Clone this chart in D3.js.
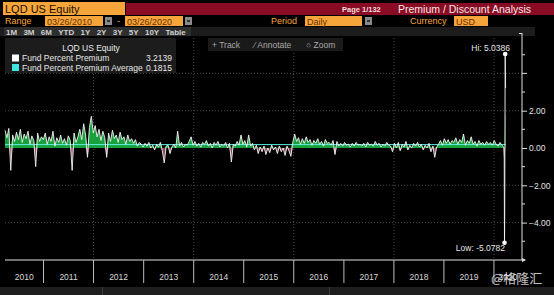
<!DOCTYPE html>
<html>
<head>
<meta charset="utf-8">
<script src="https://cdn.jsdelivr.net/npm/d3@7"></script>
<style>
  body { margin: 0; background: #000; }
  svg { display: block; font-family: "Liberation Sans", Arial, sans-serif; }
</style>
</head>
<body>
<div class="chart"></div>
<script>
// biweekly Fund Percent Premium, starting 03/26/2010
var startDate = "2010-03-26"
var premium = [
  // 2010
  0.95, 0.55, 1.05, -1.2, 0.7, 0.35, 0.85, 0.45, 1.0, 0.3, 0.75, 0.5, 0.9, 0.2, 0.65, 0.4, -1.0, 0.8, 0.35, 0.6,
  // 2011
  0.45, 0.8, 0.2, 0.6, 0.35, 0.9, 0.1, 0.55, 0.3, 0.7, 0.25, 0.5, 0.15, 0.65, 0.4, -1.2, 0.8, 0.3, 0.6, 1.0, 0.45, 1.3, 0.7, -0.5, 1.1, 1.7,
  // 2012
  0.8, 1.2, 0.6, 1.0, 0.4, 0.9, 0.55, -0.5, 0.8, 0.35, 0.95, 0.5, 0.7, 0.3, 0.85, 0.45, 0.6, 0.2, 0.7, 0.35, 0.5, 0.25, 0.45, 0.1, 0.3, 0.2,
  // 2013
  0.05, 0.25, 0.1, 0.3, 0.0, 0.15, -0.1, 0.2, 0.05, 0.3, -0.15, -0.8, 0.1, 0.15, -0.3, 0.05, 0.2, 0.0, 0.9, 0.1, 0.3, 0.05, 0.2, 0.15, 0.35, 0.6,
  // 2014
  0.15, 0.35, 0.1, 0.25, 0.05, 0.3, 0.2, 0.4, 0.1, 0.25, 0.0, 0.3, 0.15, 0.35, 0.05, 0.2, 0.1, 0.3, 0.0, 0.25, -0.75, 0.2, 0.1, 0.35, 0.15, 0.7,
  // 2015
  0.2, 0.4, 0.05, 0.7, 0.1, 0.25, -0.1, 0.15, -0.3, 0.05, -0.2, 0.1, -0.35, 0.0, -0.25, 0.15, -0.1, 0.05, -0.3, 0.1, -0.2, 0.0, -0.4, 0.1, -0.15, -0.45,
  // 2016
  0.3, 0.75, 0.35, 0.55, 0.2, 0.5, 0.25, 0.6, 0.3, 0.45, 0.15, 0.4, 0.25, 0.5, 0.2, 0.35, 0.1, 0.45, 0.25, 0.3, 0.15, 0.4, -0.35, 0.35, 0.1, 0.25,
  // 2017
  0.1, 0.3, 0.15, 0.2, 0.05, 0.25, 0.1, 0.3, 0.15, 0.2, 0.1, 0.25, 0.05, 0.3, 0.15, 0.2, 0.1, 0.35, 0.15, 0.25, 0.05, 0.2, 0.1, 0.3, 0.15, 0.1,
  // 2018
  -0.2, 0.25, 0.0, 0.3, -0.15, 0.2, 0.05, 0.35, -0.1, 0.15, 0.0, 0.25, 0.1, 0.3, 0.05, 0.2, -0.1, 0.15, 0.0, 0.25, -0.2, 0.1, -0.5, 0.05, 0.2, 0.4,
  // 2019
  0.15, 0.5, 0.25, 0.45, 0.2, 0.4, 0.3, 0.55, 0.2, 0.45, 0.3, 0.75, 0.15, 0.4, 0.25, 0.6, 0.2, 0.35, 0.1, 0.4, 0.2, 0.3, 0.15, 0.35, 0.2, 0.3,
  // 2020
  0.15, 0.4, 0.2, 0.1, 0.3, 0.15, 0.05
]
// daily values through the March 2020 dislocation
var crashDates = ["2020-03-16", "2020-03-17", "2020-03-18", "2020-03-19", "2020-03-20", "2020-03-23", "2020-03-24", "2020-03-25", "2020-03-26"]
var crashValues = [-0.6, -3.1, -5.0782, -4.2, -2.4, 5.0386, 4.3, 3.7, 3.2139]

var average = 0.1815
var hiValue = 5.0386, lowValue = -5.0782
var yearLabels = ["2010", "2011", "2012", "2013", "2014", "2015", "2016", "2017", "2018", "2019", "2020"]
var yTicks = [-4, -2, 0, 2]
var rangeButtons = ["1M", "3M", "6M", "YTD", "1Y", "2Y", "3Y", "5Y", "10Y", "Table"]

var width = 554, height = 295
var orange = "#f6a53a", crimson = "#8a0c24"
var svg = d3.select(".chart").append("svg").attr("width", width).attr("height", height)
svg.append("rect").attr("width", width).attr("height", height).attr("fill", "#000")

var parse = d3.timeParse("%Y-%m-%d")
var start = parse(startDate)
var series = premium.map((v, i) => ({ date: d3.timeDay.offset(start, 14 * i), value: v }))
crashDates.forEach((d, i) => series.push({ date: parse(d), value: crashValues[i] }))

var x = d3.scaleTime().domain([start, parse("2020-03-26")]).range([5, 505.6])
var y = d3.scaleLinear().domain([-6.005, 5.79]).range([260, 40])
var axisX = 522

// ---- header ----
svg.append("rect").attr("x", 126).attr("y", 3).attr("width", 428).attr("height", 12).attr("fill", crimson)
svg.append("rect").attr("x", 3).attr("y", 2).attr("width", 122).attr("height", 13).attr("fill", orange)
svg.append("text").text("LQD US Equity").attr("x", 5).attr("y", 12.5).attr("font-size", 11).attr("fill", "#1a0d00")
svg.append("text").text("Page 1/132").attr("x", 342).attr("y", 12).attr("font-size", 7.5).attr("font-weight", "bold").attr("fill", "#f2dede")
svg.append("text").text("Premium / Discount Analysis").attr("x", 398).attr("y", 12.5).attr("font-size", 10.5).attr("fill", "#f5e6e6")

svg.append("text").text("Range").attr("x", 5).attr("y", 24).attr("font-size", 9).attr("fill", orange)
var inputs = [{ t: "03/26/2010", x: 45, w: 58 }, { t: "03/26/2020", x: 125, w: 58 }, { t: "Daily", x: 305, w: 57 }, { t: "USD", x: 454, w: 34 }]
inputs.forEach(d => {
  svg.append("rect").attr("x", d.x).attr("y", 16).attr("width", d.w).attr("height", 10).attr("fill", orange)
  svg.append("text").text(d.t).attr("x", d.x + 2).attr("y", 24.5).attr("font-size", 9).attr("fill", "#6b3000")
})
;[105, 185, 365].forEach(bx => {
  svg.append("rect").attr("x", bx).attr("y", 17).attr("width", 7).attr("height", 8).attr("fill", "#8a8a8a")
  svg.append("rect").attr("x", bx + 2).attr("y", 20).attr("width", 3).attr("height", 2).attr("fill", "#333")
})
svg.append("text").text("-").attr("x", 117).attr("y", 24).attr("font-size", 9).attr("fill", orange)
svg.append("text").text("Period").attr("x", 271).attr("y", 24).attr("font-size", 9).attr("fill", orange)
svg.append("text").text("Currency").attr("x", 410).attr("y", 24).attr("font-size", 9).attr("fill", orange)

svg.append("rect").attr("x", 0).attr("y", 27).attr("width", 535).attr("height", 9).attr("fill", "#1c1c1c")
svg.append("rect").attr("x", 4).attr("y", 27).attr("width", 187).attr("height", 9).attr("fill", "#2e2e2e")
var bx = 6
rangeButtons.forEach(b => {
  var t = svg.append("text").text(b).attr("x", bx).attr("y", 34.5).attr("font-size", 8).attr("font-weight", "bold").attr("fill", "#cfcfcf")
  bx += t.node().getComputedTextLength() + 6.3
})

// ---- grid ----
var grid = svg.append("g").attr("stroke", "#5a5a5a").attr("stroke-dasharray", "1,2").attr("stroke-width", 0.8)
;[-4, -2, 2, 4].forEach(v => {
  grid.append("line").attr("x1", 5).attr("x2", axisX).attr("y1", y(v)).attr("y2", y(v))
})
;["2012", "2014", "2016", "2018", "2020"].forEach(yr => {
  var gx = x(parse(yr + "-01-01"))
  grid.append("line").attr("x1", gx).attr("x2", gx).attr("y1", 38).attr("y2", 260)
})

// ---- data ----
// the fill bands are capped, the spike itself is shown by the line only
var areaPos = d3.area().x(d => x(d.date)).y0(y(0)).y1(d => y(Math.min(Math.max(d.value, 0), 1.8)))
var areaNeg = d3.area().x(d => x(d.date)).y0(y(0)).y1(d => y(Math.max(Math.min(d.value, 0), -0.7)))
svg.append("path").datum(series).attr("d", areaPos).attr("fill", "#17a03c")
svg.append("path").datum(series).attr("d", areaNeg).attr("fill", "#a85a72").attr("fill-opacity", 0.8)
svg.append("line").attr("x1", 5).attr("x2", x(parse("2020-03-26"))).attr("y1", y(average)).attr("y2", y(average))
  .attr("stroke", "#5ff0e6").attr("stroke-width", 1)
svg.append("path").datum(series).attr("d", d3.line().x(d => x(d.date)).y(d => y(d.value)))
  .attr("fill", "none").attr("stroke", "#f4f4f4").attr("stroke-width", 0.9)

// hi / low markers
var hiPt = series.find(d => d.value === hiValue), lowPt = series.find(d => d.value === lowValue)
svg.append("circle").attr("cx", x(hiPt.date)).attr("cy", y(hiPt.value)).attr("r", 2.3).attr("fill", "#fff")
svg.append("circle").attr("cx", x(lowPt.date)).attr("cy", y(lowPt.value)).attr("r", 2.3).attr("fill", "#fff")
svg.append("text").text("Hi: " + hiValue.toFixed(4)).attr("x", 510).attr("y", 50.5).attr("text-anchor", "end")
  .attr("font-size", 8.5).attr("fill", "#e6e6e6")
svg.append("text").text("Low: " + lowValue.toFixed(4)).attr("x", 505).attr("y", 251).attr("text-anchor", "end")
  .attr("font-size", 8.5).attr("fill", "#e6e6e6")

// ---- y axis (right) ----
var yAxis = svg.append("g").attr("transform", "translate(" + axisX + ",0)")
  .call(d3.axisRight(y).tickValues(yTicks).tickSize(5).tickPadding(2).tickFormat(d3.format(".2f")))
yAxis.select(".domain").remove()
yAxis.selectAll(".tick line").attr("stroke", "#e0e0e0")
yAxis.selectAll(".tick text").attr("fill", "#e0e0e0").attr("font-size", 8.5).attr("font-family", "Liberation Sans, Arial, sans-serif")
;[-5, -3, -1, 1, 3, 4, 5].forEach(v => {
  yAxis.append("line").attr("x1", 0).attr("x2", v === 4 ? 5 : 3).attr("y1", y(v)).attr("y2", y(v)).attr("stroke", "#e0e0e0")
})
svg.append("line").attr("x1", axisX).attr("x2", axisX).attr("y1", 33).attr("y2", 260).attr("stroke", "#e0e0e0")
svg.append("line").attr("x1", axisX - 3).attr("x2", axisX).attr("y1", 33.5).attr("y2", 33.5).attr("stroke", "#e0e0e0")

// ---- x axis ----
svg.append("line").attr("x1", 5).attr("x2", 525).attr("y1", 260).attr("y2", 260).attr("stroke", "#e0e0e0")
svg.append("path").attr("d", "M522,258 L526,260 L522,262 Z").attr("fill", "#e0e0e0")
yearLabels.forEach((yr, i) => {
  var a = Math.max(x(parse(yr + "-01-01")), 5)
  var b = Math.min(x(parse((+yr + 1) + "-01-01")), axisX)
  if (i > 0) svg.append("line").attr("x1", a).attr("x2", a).attr("y1", 260).attr("y2", 283).attr("stroke", "#bdbdbd")
  svg.append("text").text(yr).attr("x", (a + b) / 2).attr("y", 280).attr("text-anchor", "middle")
    .attr("font-size", 8.5).attr("fill", "#d8d8d8")
})

// bottom strip
svg.append("rect").attr("x", 0).attr("y", 287).attr("width", width).attr("height", 8).attr("fill", "#1e1e1e")
;[102, 329].forEach(sx => svg.append("rect").attr("x", sx).attr("y", 287).attr("width", 1).attr("height", 8).attr("fill", "#3a3a3a"))

// ---- legend ----
svg.append("rect").attr("x", 5).attr("y", 38).attr("width", 171).attr("height", 35).attr("fill", "#1c1c1c")
svg.append("text").text("LQD US Equity").attr("x", 91).attr("y", 51).attr("text-anchor", "middle").attr("font-size", 8.5).attr("fill", "#e8e8e8")
var legendRows = [
  { name: "Fund Percent Premium", value: "3.2139", color: "#ffffff" },
  { name: "Fund Percent Premium Average", value: average.toFixed(4), color: "#3fe6e0" }
]
legendRows.forEach((r, i) => {
  var ly = 61 + i * 9.5
  svg.append("rect").attr("x", 12).attr("y", ly - 6.5).attr("width", 7).attr("height", 7).attr("fill", r.color)
  svg.append("text").text(r.name).attr("x", 22).attr("y", ly).attr("font-size", 8.5).attr("fill", "#e8e8e8")
  svg.append("text").text(r.value).attr("x", 172).attr("y", ly).attr("text-anchor", "end").attr("font-size", 8.5).attr("fill", "#e8e8e8")
})

// track / annotate / zoom
svg.append("rect").attr("x", 208).attr("y", 38).attr("width", 135).attr("height", 13).attr("fill", "#1a1a1a")
var tools = [{ t: "+ Track", x: 212 }, { t: "⁄ Annotate", x: 254 }, { t: "○ Zoom", x: 306 }]
tools.forEach(d => svg.append("text").text(d.t).attr("x", d.x).attr("y", 47.5).attr("font-size", 8.5).attr("fill", "#a8a8a8"))

// watermark
svg.append("text").text("@格隆汇").attr("x", 491).attr("y", 283).attr("font-size", 13)
  .attr("font-family", "Noto Sans CJK SC, sans-serif").attr("fill", "#e8e8e8").attr("fill-opacity", 0.85)
</script>
</body>
</html>
